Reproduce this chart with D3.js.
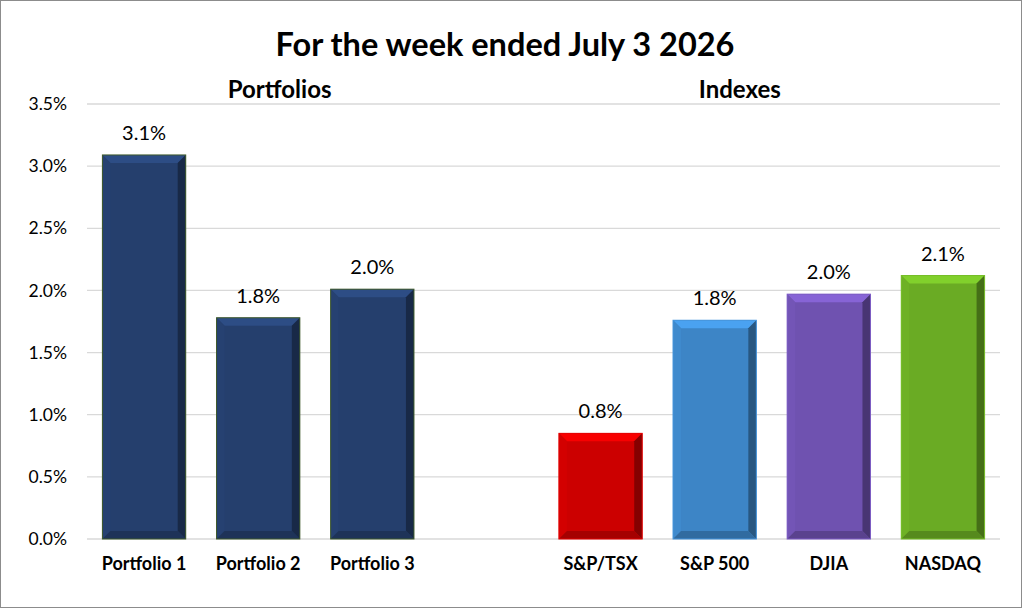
<!DOCTYPE html>
<html>
<head>
<meta charset="utf-8">
<script src="https://cdn.jsdelivr.net/npm/d3@7"></script>
<style>
  body { margin: 0; background: #fff; }
  text { font-family: Lato, "Open Sans", sans-serif; }
</style>
</head>
<body>
<div id="chart"></div>
<script>
const FRAME_WIDTH = 1024;
const FRAME_HEIGHT = 611;
const MARGINS = {left: 87, right: 24, top: 104, bottom: 72};
const VIS_WIDTH = FRAME_WIDTH - MARGINS.left - MARGINS.right;
const VIS_HEIGHT = FRAME_HEIGHT - MARGINS.top - MARGINS.bottom;

// data
const categories = ["Portfolio 1", "Portfolio 2", "Portfolio 3", "", "S&P/TSX", "S&P 500", "DJIA", "NASDAQ"];
const values = [3.09, 1.78, 2.01, null, 0.85, 1.76, 1.97, 2.12];
const valueLabels = ["3.1%", "1.8%", "2.0%", "", "0.8%", "1.8%", "2.0%", "2.1%"];
const barColors = ["#253f6d", "#253f6d", "#253f6d", "none", "#cc0000", "#3d85c6", "#6f52b0", "#6aab24"];
const yTicks = [0, 0.5, 1, 1.5, 2, 2.5, 3, 3.5];
const groupLabels = ["Portfolios", "Indexes"];

const FRAME = d3.select("#chart")
                .append("svg")
                  .attr("width", FRAME_WIDTH)
                  .attr("height", FRAME_HEIGHT);

// outer border
FRAME.append("rect")
     .attr("x", 0.5).attr("y", 0.5)
     .attr("width", FRAME_WIDTH - 3).attr("height", FRAME_HEIGHT - 4)
     .attr("fill", "#fff")
     .attr("stroke", "#8c8c8c");

const X_SCALE = d3.scaleBand()
                  .domain(d3.range(categories.length))
                  .range([0, VIS_WIDTH])
                  .paddingInner(0.27)
                  .paddingOuter(0.135);

const Y_SCALE = d3.scaleLinear()
                  .domain([0, 3.5])
                  .range([VIS_HEIGHT, 0]);

const G = FRAME.append("g")
               .attr("transform", "translate(" + MARGINS.left + "," + MARGINS.top + ")");

// gridlines
G.selectAll(".grid")
 .data(yTicks)
 .enter()
 .append("line")
   .attr("x1", 0).attr("x2", VIS_WIDTH)
   .attr("y1", d => Y_SCALE(d)).attr("y2", d => Y_SCALE(d))
   .attr("stroke", "#d9d9d9")
   .attr("stroke-width", 1.3);

// y axis labels
const yAxis = G.append("g")
               .call(d3.axisLeft(Y_SCALE).tickValues(yTicks).tickSize(0).tickPadding(20)
                       .tickFormat(d => d.toFixed(1) + "%"));
yAxis.select(".domain").remove();
yAxis.selectAll("text")
     .attr("font-size", "17.5px")
     .attr("fill", "#000")
     .style("font-family", "Lato, 'Open Sans', sans-serif");

// bars with bevel
const barData = values.map((v, i) => ({v: v, i: i})).filter(d => d.v !== null);
const BEV = 8;

const bars = G.selectAll(".bar")
              .data(barData)
              .enter()
              .append("g")
                .attr("class", "bar");

bars.each(function(d) {
  const g = d3.select(this);
  const x0 = X_SCALE(d.i);
  const x1 = x0 + X_SCALE.bandwidth();
  const y0 = Y_SCALE(d.v);
  const y1 = Y_SCALE(0);
  const c = d3.color(barColors[d.i]);

  g.append("rect")
   .attr("x", x0).attr("y", y0)
   .attr("width", x1 - x0).attr("height", y1 - y0)
   .attr("fill", c.formatHex());

  // top
  g.append("polygon")
   .attr("points", [[x0, y0], [x1, y0], [x1 - BEV, y0 + BEV], [x0 + BEV, y0 + BEV]].join(" "))
   .attr("fill", c.brighter(0.55).formatHex());
  // left
  g.append("polygon")
   .attr("points", [[x0, y0], [x0 + BEV, y0 + BEV], [x0 + BEV, y1 - BEV], [x0, y1]].join(" "))
   .attr("fill", c.brighter(0.1).formatHex());
  // right
  g.append("polygon")
   .attr("points", [[x1, y0], [x1, y1], [x1 - BEV, y1 - BEV], [x1 - BEV, y0 + BEV]].join(" "))
   .attr("fill", c.darker(1.2).formatHex());
  // bottom
  g.append("polygon")
   .attr("points", [[x0, y1], [x0 + BEV, y1 - BEV], [x1 - BEV, y1 - BEV], [x1, y1]].join(" "))
   .attr("fill", c.darker(0.6).formatHex());

  g.append("rect")
   .attr("x", x0).attr("y", y0)
   .attr("width", x1 - x0).attr("height", y1 - y0)
   .attr("fill", "none")
   .attr("stroke", d.i < 3 ? "#3f5a2a" : c.brighter(0.3).formatHex())
   .attr("stroke-width", 1);
});

// value labels
G.selectAll(".val")
 .data(barData)
 .enter()
 .append("text")
   .attr("x", d => X_SCALE(d.i) + X_SCALE.bandwidth() / 2)
   .attr("y", d => Y_SCALE(d.v) - 15)
   .attr("text-anchor", "middle")
   .attr("font-size", "20px")
   .attr("fill", "#000")
   .text(d => valueLabels[d.i]);

// category labels
G.selectAll(".cat")
 .data(barData)
 .enter()
 .append("text")
   .attr("x", d => X_SCALE(d.i) + X_SCALE.bandwidth() / 2)
   .attr("y", VIS_HEIGHT + 31)
   .attr("text-anchor", "middle")
   .attr("font-size", "18px")
   .attr("font-weight", "bold")
   .attr("fill", "#000")
   .text(d => categories[d.i]);

// group headers (placed as text boxes, a bit off the group centres)
const groupX = [VIS_WIDTH * 0.211, VIS_WIDTH * 0.715];
G.selectAll(".grp")
 .data(groupLabels)
 .enter()
 .append("text")
   .attr("x", (d, i) => groupX[i])
   .attr("y", -6)
   .attr("text-anchor", "middle")
   .attr("font-size", "24px")
   .attr("font-weight", "bold")
   .attr("fill", "#000")
   .text(d => d);

// title
FRAME.append("text")
     .attr("x", 505)
     .attr("y", 56)
     .attr("text-anchor", "middle")
     .attr("font-size", "32.5px")
     .attr("font-weight", "bold")
     .attr("fill", "#000")
     .text("For the week ended July 3 2026");
</script>
</body>
</html>
